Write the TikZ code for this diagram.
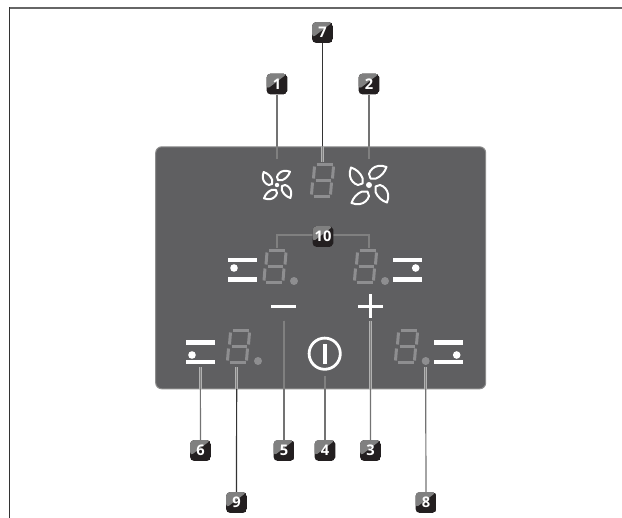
\documentclass[tikz,border=0pt]{standalone}
\usepackage{fontspec}
\setsansfont{Open Sans}
\definecolor{panelgrey}{HTML}{5F5F61}
\definecolor{seggrey}{HTML}{8E8E90}
\definecolor{badgeblack}{HTML}{231F20}
\tikzset{
  px/.style={line width=#1*0.75pt},
  panel/.style={draw=black!45,px=1,fill=panelgrey,rounded corners=4.5pt,inner sep=0pt,minimum width=247.5pt,minimum height=181.5pt},
  badge/.style={rounded corners=2.6pt,inner sep=0pt,minimum size=15.4pt,text=white,font=\sffamily\bfseries\fontsize{11}{11}\selectfont,
    path picture={
      \fill[badgeblack] (path picture bounding box.south west) rectangle (path picture bounding box.north east);
      \fill[black!50] (path picture bounding box.north west) -- (path picture bounding box.north east) -- ([yshift=-4pt]path picture bounding box.west) -- cycle;
    }},
  leader/.style={draw=black!55,px=1.2},
  dark leader/.style={draw=black!80,px=1.2},
  halo/.style={draw=black!30,px=2.8},
  halocore/.style={draw=black!50,px=1.3},
  seg/.style={draw=seggrey,px=3},
  white bar/.style={draw=white,px=4.4},
  fanline/.style={draw=white,px=2,line join=round},
  digit/.pic={
    \foreach \ax/\ay/\bx/\by in {-6/-16/10/-16, -8/-14/-9/-2, 11/-14/10/-2, -7/0/8/0, -10/2/-11/14, 9/2/8/14, -9/16/7/16}
      \draw[seg] (\ax,\ay) -- (\bx,\by);
  },
  hob/.pic={
    \draw[white bar] (-14.5,-10) -- (14.5,-10);
    \draw[white bar] (-14.5,9.5) -- (14.5,9.5);
  },
  fan/.pic={
    \fill[white] (0,0) circle (3);
    \foreach \r in {0,90,180,270}
      \draw[fanline,rotate=\r] (1.5,-6.5) -- (0,-11) .. controls (1,-15) and (5,-18.5) .. (9,-19) .. controls (12,-19.5) and (15,-19) .. (17.5,-18) .. controls (16,-13) and (12,-8.5) .. (7,-6.5) -- cycle;
  }
}

\begin{document}
\begin{tikzpicture}[x=0.75pt,y=-0.75pt]
    \useasboundingbox (0,0) rectangle (622,518);
    \draw [draw=black!60,px=2] (9,7.7) -- (622,7.7);
    \draw [draw=black!80,px=1.2] (9.7,7) -- (9.7,518);

    \node [panel] (panel) at (320.7,267.8) {};

    % symbols on the panel
    \pic [scale=.74] at (277,185) {fan};
    \pic at (369,185) {fan};
    \pic at (322.5,180.5) {digit};
    \pic at (275,266.5) {digit};
    \pic at (365.5,266.5) {digit};
    \pic at (238.5,346.5) {digit};
    \pic at (406.5,346.5) {digit};
    \fill [seggrey] (294,281) circle (4);
    \fill [seggrey] (385,281) circle (4);
    \fill [seggrey] (258,361) circle (4);
    \fill [seggrey] (425.7,361) circle (4);
    \pic at (242.5,270) {hob};
    \pic at (407.5,270) {hob};
    \pic at (200.5,352.5) {hob};
    \pic at (448.5,352.5) {hob};
    \fill [white] (234,268) circle (3.8);
    \fill [white] (415.7,268) circle (3.8);
    \fill [white] (192,355) circle (3.8);
    \fill [white] (456.7,355) circle (3.8);
    \draw [white bar,px=3] (271,306) -- (296,306);
    \draw [white bar,px=3] (358,306) -- (383,306);
    \draw [white bar,px=3] (370.7,294) -- (370.7,318);
    \draw [white bar,px=2.8] (324.7,353.7) circle (15.6);
    \draw [white bar,px=4] (324.7,344) -- (324.7,364);

    % free ends of the leaders
    \coordinate (t1) at (277,159);
    \coordinate (t7) at (322.5,162);
    \coordinate (t2) at (369,159);
    \coordinate (t6) at (200.3,367);
    \coordinate (t9) at (236.7,367);
    \coordinate (t5) at (284,320.7);
    \coordinate (t4) at (325,376);
    \coordinate (t3) at (370.7,320.7);
    \coordinate (t8) at (425.7,367);
    \coordinate (tl) at (277,248);
    \coordinate (tr) at (369,248);

    \node [badge] (n1) at (277,84) {1};
    \node [badge] (n7) at (322.5,32.5) {7};
    \node [badge] (n2) at (369,84) {2};
    \node [badge] (n6) at (200.5,450.5) {6};
    \node [badge] (n5) at (284,450.5) {5};
    \node [badge] (n4) at (325,450.5) {4};
    \node [badge] (n3) at (370.5,450.5) {3};
    \node [badge] (n9) at (236.5,502.5) {9};
    \node [badge] (n8) at (426,502.5) {8};

    \draw [leader] (n1) -- (t1);
    \draw [dark leader] (n7) -- (t7);
    \draw [leader] (n2) -- (t2);
    \draw [leader] (n6) -- (t6);
    \draw [leader] (n5) -- (t5);
    \draw [leader] (n4) -- (t4);
    \draw [leader] (n3) -- (t3);
    \draw [dark leader] (n9) -- (t9);
    \draw [leader] (n8) -- (t8);

    \foreach \t in {t1,t7,t2} {
      \draw [halo] (\t) -- (\t |- panel.north);
      \draw [halocore] (\t) -- (\t |- panel.north);
    }
    \foreach \t in {t6,t9,t5,t4,t3,t8} {
      \draw [halo] (\t) -- (\t |- panel.south);
      \draw [halocore] (\t) -- (\t |- panel.south);
    }
    \draw [halo] (tl) |- (323,235) -| (tr);
    \draw [halocore] (tl) |- (323,235) -| (tr);
    \node [badge] (n10) at (323,236.5) {10};
 \end{tikzpicture}
\end{document}
